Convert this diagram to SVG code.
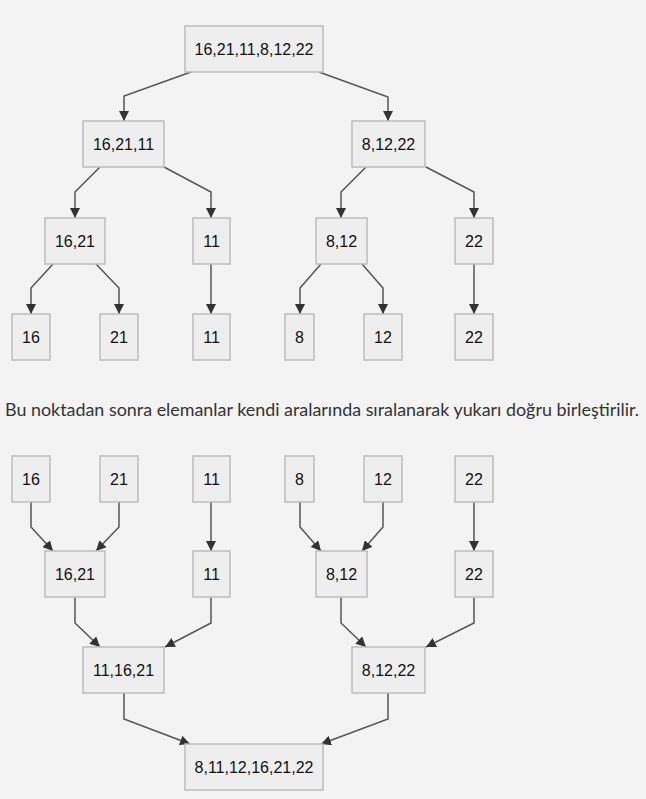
<svg xmlns="http://www.w3.org/2000/svg" width="646" height="799" viewBox="0 0 646 799">
<defs>
<marker id="ah" viewBox="0 0 10 10" refX="10" refY="5" markerWidth="10" markerHeight="10" markerUnits="userSpaceOnUse" orient="auto">
<path d="M0,0 L10,5 L0,10 z" fill="#333"/>
</marker>
<style>
.n rect{fill:#eeeeee;stroke:#bdbdbd;stroke-width:1.5}
.n text{font-family:"Liberation Sans",Arial,sans-serif;font-size:16px;fill:#111;text-anchor:middle}
#edges polyline{fill:none;stroke:#555;stroke-width:1.5;marker-end:url(#ah)}
.note{font-family:Lato,"Noto Sans",sans-serif;font-size:17.9px;fill:#333}
</style>
</defs>
<rect width="646" height="799" fill="#f3f3f3"/>
<g id="edges">
<polyline points="191,72 124,96 124,121"/>
<polyline points="319,72 388,97 388,121"/>
<polyline points="100,167 75,192 75,218"/>
<polyline points="164,167 211,192 211,218"/>
<polyline points="366,167 341,192 341,218"/>
<polyline points="426,167 474,192 474,218"/>
<polyline points="53,264 31,288 31,314"/>
<polyline points="96,264 119,288 119,314"/>
<polyline points="211,264 211,314"/>
<polyline points="321,264 300,288 300,314"/>
<polyline points="362,264 383,288 383,314"/>
<polyline points="474,264 474,314"/>
<polyline points="31,502 31,527 53,551"/>
<polyline points="119,502 119,527 96,551"/>
<polyline points="211,502 211,551"/>
<polyline points="300,502 300,527 321,551"/>
<polyline points="383,502 383,527 362,551"/>
<polyline points="474,502 474,551"/>
<polyline points="75,598 75,623 100,647"/>
<polyline points="211,598 211,623 165,647"/>
<polyline points="341,598 341,623 366,647"/>
<polyline points="474,598 474,623 426,647"/>
<polyline points="124,693 124,719 190,744"/>
<polyline points="388,693 388,719 321,744"/>
</g>
<g id="n0" class="n"><rect x="185" y="26" width="138" height="46"/><text x="254" y="54.5">16,21,11,8,12,22</text></g>
<g id="n1" class="n"><rect x="83" y="121" width="81" height="46"/><text x="123.5" y="149.5">16,21,11</text></g>
<g id="n2" class="n"><rect x="352" y="121" width="73" height="46"/><text x="388.5" y="149.5">8,12,22</text></g>
<g id="n3" class="n"><rect x="45" y="218" width="60" height="46"/><text x="75" y="246.5">16,21</text></g>
<g id="n4" class="n"><rect x="193" y="218" width="37" height="46"/><text x="211.5" y="246.5">11</text></g>
<g id="n5" class="n"><rect x="316" y="218" width="51" height="46"/><text x="341.5" y="246.5">8,12</text></g>
<g id="n6" class="n"><rect x="455" y="218" width="38" height="46"/><text x="474" y="246.5">22</text></g>
<g id="n7" class="n"><rect x="12" y="314" width="38" height="46"/><text x="31" y="342.5">16</text></g>
<g id="n8" class="n"><rect x="100" y="314" width="38" height="46"/><text x="119" y="342.5">21</text></g>
<g id="n9" class="n"><rect x="193" y="314" width="37" height="46"/><text x="211.5" y="342.5">11</text></g>
<g id="n10" class="n"><rect x="285" y="314" width="29" height="46"/><text x="299.5" y="342.5">8</text></g>
<g id="n11" class="n"><rect x="364" y="314" width="38" height="46"/><text x="383" y="342.5">12</text></g>
<g id="n12" class="n"><rect x="455" y="314" width="38" height="46"/><text x="474" y="342.5">22</text></g>
<text class="note" x="5" y="416">Bu noktadan sonra elemanlar kendi aralarında sıralanarak yukarı doğru birleştirilir.</text>
<g id="m0" class="n"><rect x="12" y="456" width="38" height="46"/><text x="31" y="484.5">16</text></g>
<g id="m1" class="n"><rect x="100" y="456" width="38" height="46"/><text x="119" y="484.5">21</text></g>
<g id="m2" class="n"><rect x="193" y="456" width="37" height="46"/><text x="211.5" y="484.5">11</text></g>
<g id="m3" class="n"><rect x="285" y="456" width="29" height="46"/><text x="299.5" y="484.5">8</text></g>
<g id="m4" class="n"><rect x="364" y="456" width="38" height="46"/><text x="383" y="484.5">12</text></g>
<g id="m5" class="n"><rect x="455" y="456" width="38" height="46"/><text x="474" y="484.5">22</text></g>
<g id="m6" class="n"><rect x="45" y="551" width="60" height="46"/><text x="75" y="579.5">16,21</text></g>
<g id="m7" class="n"><rect x="193" y="551" width="37" height="46"/><text x="211.5" y="579.5">11</text></g>
<g id="m8" class="n"><rect x="316" y="551" width="51" height="46"/><text x="341.5" y="579.5">8,12</text></g>
<g id="m9" class="n"><rect x="455" y="551" width="38" height="46"/><text x="474" y="579.5">22</text></g>
<g id="m10" class="n"><rect x="83" y="647" width="81" height="46"/><text x="123.5" y="675.5">11,16,21</text></g>
<g id="m11" class="n"><rect x="352" y="647" width="73" height="46"/><text x="388.5" y="675.5">8,12,22</text></g>
<g id="m12" class="n"><rect x="185" y="744" width="138" height="46"/><text x="254" y="772.5">8,11,12,16,21,22</text></g>
</svg>
